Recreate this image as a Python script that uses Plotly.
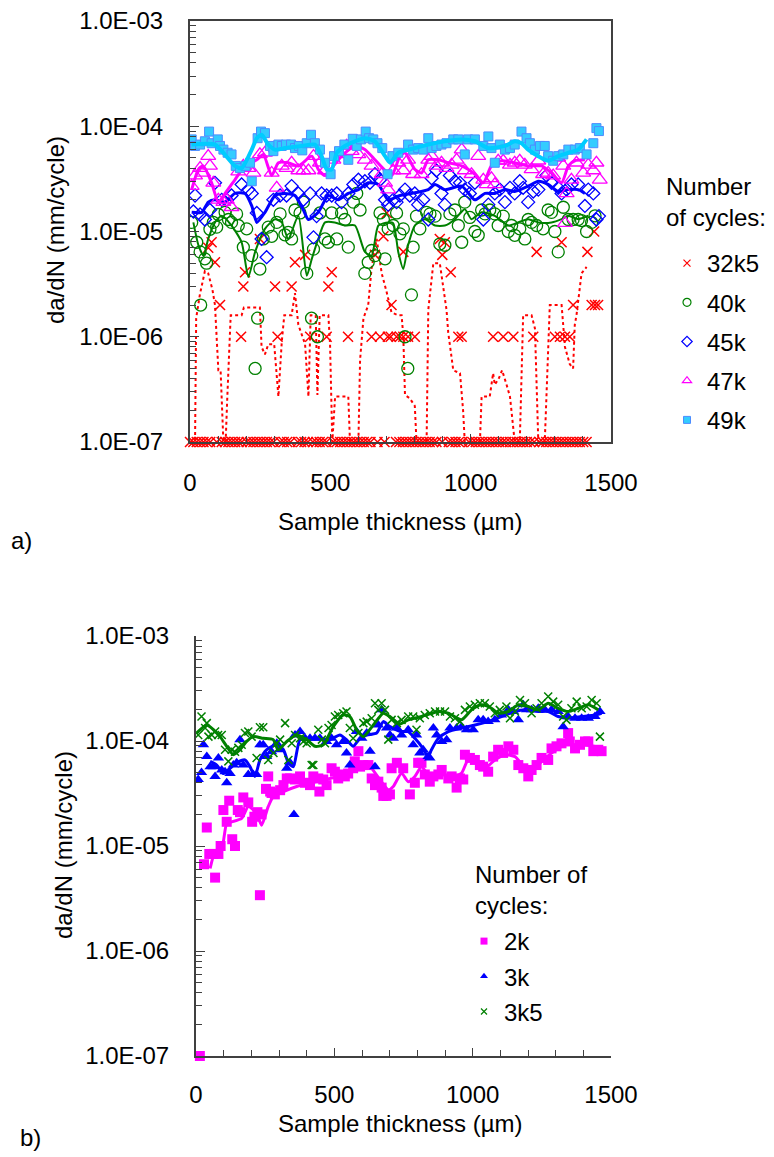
import plotly.graph_objects as go

FUENTE = "Liberation Sans, Arial, sans-serif"

# ---------- Panel a) : (espesor um, da/dN mm/ciclo) ----------
puntos_32k5 = [(65, 7.0e-6), (77, 7.9e-6), (89, 5.1e-6), (107, 2.0e-6), (182, 1.0e-6), (190, 3.0e-6),
               (196, 4.1e-6), (249, 8.5e-6), (303, 3.0e-6), (312, 1.0e-6), (362, 3.0e-6), (374, 5.1e-6),
               (410, 6.0e-6), (428, 1.0e-6), (487, 1.0e-6), (493, 3.0e-6), (505, 4.1e-6), (563, 1.0e-6),
               (647, 1.0e-6), (659, 6.0e-6), (677, 1.0e-6), (689, 9.0e-6), (701, 1.5e-5), (705, 1.0e-6),
               (715, 1.0e-6), (718, 2.0e-6), (736, 1.0e-6), (748, 1.0e-6), (760, 6.4e-6), (760, 1.0e-6),
               (777, 1.0e-6), (801, 1.0e-6), (890, 8.5e-6), (899, 6.0e-6), (908, 7.9e-6), (929, 4.1e-6),
               (956, 1.0e-6), (968, 1.0e-6), (1080, 1.0e-6), (1116, 1.0e-6), (1152, 1.0e-6), (1223, 1.0e-6),
               (1235, 6.4e-6), (1300, 1.0e-6), (1318, 1.0e-6), (1324, 7.9e-6), (1336, 1.0e-6), (1353, 1.0e-6),
               (1365, 2.0e-6), (1416, 6.4e-6), (1431, 2.0e-6), (1440, 1.0e-5), (1443, 2.0e-6), (1454, 2.0e-6)]
# lecturas nulas dibujadas sobre el eje (1E-07)
espesor_32k5_cero = [0, 12, 24, 36, 48, 60, 72, 95, 113, 125, 137, 149, 161, 173, 185, 202, 214, 226, 238,
                     250, 262, 274, 286, 298, 322, 334, 346, 358, 384, 396, 408, 420, 438, 450, 462, 474,
                     486, 511, 523, 535, 547, 559, 571, 583, 595, 607, 619, 631, 643, 668, 693, 734, 746,
                     758, 770, 782, 794, 806, 818, 830, 842, 854, 866, 878, 898, 922, 934, 946, 958, 970,
                     994, 1006, 1018, 1030, 1042, 1054, 1066, 1078, 1090, 1102, 1114, 1126, 1140, 1152,
                     1164, 1176, 1188, 1200, 1212, 1226, 1245, 1257, 1269, 1281, 1293, 1305, 1317, 1329,
                     1341, 1353, 1365, 1377, 1389, 1401, 1413]
dadn_32k5_cero = [1e-7, 1e-7, 1e-7, 1e-7, 1e-7, 1e-7, 1e-7, 1e-7, 1e-7, 1e-7, 1e-7, 1e-7, 1e-7, 1e-7, 1e-7,
                  1e-7, 1e-7, 1e-7, 1e-7, 1e-7, 1e-7, 1e-7, 1e-7, 1e-7, 1e-7, 1e-7, 1e-7, 1e-7, 1e-7, 1e-7,
                  1e-7, 1e-7, 1e-7, 1e-7, 1e-7, 1e-7, 1e-7, 1e-7, 1e-7, 1e-7, 1e-7, 1e-7, 1e-7, 1e-7, 1e-7,
                  1e-7, 1e-7, 1e-7, 1e-7, 1e-7, 1e-7, 1e-7, 1e-7, 1e-7, 1e-7, 1e-7, 1e-7, 1e-7, 1e-7, 1e-7,
                  1e-7, 1e-7, 1e-7, 1e-7, 1e-7, 1e-7, 1e-7, 1e-7, 1e-7, 1e-7, 1e-7, 1e-7, 1e-7, 1e-7, 1e-7,
                  1e-7, 1e-7, 1e-7, 1e-7, 1e-7, 1e-7, 1e-7, 1e-7, 1e-7, 1e-7, 1e-7, 1e-7, 1e-7, 1e-7, 1e-7,
                  1e-7, 1e-7, 1e-7, 1e-7, 1e-7, 1e-7, 1e-7, 1e-7, 1e-7, 1e-7, 1e-7, 1e-7, 1e-7, 1e-7, 1e-7]
media_32k5 = [(0, 1e-7), (18, 1e-7), (22, 1.5e-6), (35, 2.5e-6), (53, 4.2e-6), (65, 4.0e-6), (80, 2.8e-6),
              (89, 2.0e-6), (101, 4.8e-7), (109, 4.8e-7), (119, 1e-7), (127, 1e-7), (133, 2.7e-7),
              (145, 1.6e-6), (184, 1.6e-6), (192, 1.9e-6), (249, 1.9e-6), (255, 8.0e-7), (267, 6.8e-7),
              (279, 8.5e-7), (300, 8.5e-7), (315, 2.7e-7), (327, 9.0e-7), (336, 1.6e-6), (362, 1.6e-6),
              (374, 2.6e-6), (386, 1.3e-6), (410, 8.5e-7), (422, 2.7e-7), (430, 1.6e-6), (448, 1.6e-6),
              (454, 2.8e-7), (462, 1.6e-6), (493, 1.6e-6), (499, 8.5e-7), (507, 1e-7), (517, 2.7e-7),
              (564, 2.7e-7), (570, 1e-7), (600, 1e-7), (606, 6.0e-7), (618, 1.5e-6), (635, 2.0e-6),
              (647, 4.5e-6), (665, 8.5e-6), (683, 4.0e-6), (700, 2.7e-6), (718, 1.7e-6), (742, 1.6e-6),
              (754, 1.6e-6), (760, 1.0e-6), (766, 2.8e-7), (783, 2.6e-7), (801, 2.2e-7), (807, 1e-7),
              (843, 1e-7), (849, 1.8e-6), (867, 5.0e-6), (890, 5.0e-6), (914, 1.8e-6), (920, 1.1e-6),
              (938, 4.8e-7), (962, 4.5e-7), (973, 2.0e-7), (979, 1e-7), (1033, 1e-7), (1039, 2.7e-7),
              (1068, 2.7e-7), (1080, 4.5e-7), (1086, 3.5e-7), (1100, 4.0e-7), (1112, 4.8e-7),
              (1128, 3.5e-7), (1140, 2.7e-7), (1157, 1e-7), (1175, 1e-7), (1187, 1.6e-6), (1217, 1.6e-6),
              (1229, 1.2e-6), (1235, 2.7e-7), (1241, 1e-7), (1264, 1e-7), (1270, 2.7e-7), (1276, 8.5e-7),
              (1282, 2.0e-6), (1324, 2.0e-6), (1336, 8.0e-7), (1353, 5.5e-7), (1365, 5.0e-7),
              (1371, 1.3e-6), (1377, 1.6e-6), (1395, 4.0e-6), (1413, 4.6e-6)]

puntos_40k = [(6, 1.22e-5), (24, 7.9e-6), (36, 6.4e-6), (38, 2.0e-6), (53, 5.5e-6), (59, 5.0e-6),
              (71, 1.05e-5), (83, 1.22e-5), (95, 1.1e-5), (101, 1.45e-5), (125, 1.52e-5), (137, 1.3e-5),
              (148, 1.22e-5), (166, 1.47e-5), (172, 1.14e-5), (190, 7.1e-6), (202, 1.06e-5), (220, 5.9e-6),
              (232, 5.0e-7), (241, 1.5e-6), (249, 4.4e-6), (261, 8.5e-6), (279, 1.1e-5), (291, 9.0e-6),
              (309, 1.22e-5), (321, 1.47e-5), (338, 9.3e-6), (350, 9.8e-6), (362, 8.5e-6), (374, 1.6e-5),
              (392, 1.5e-5), (404, 1.9e-5), (416, 4.0e-6), (433, 1.5e-6), (440, 6.8e-6), (454, 1.0e-6),
              (463, 1.5e-5), (481, 8.5e-6), (493, 7.9e-6), (505, 1.5e-5), (523, 8.5e-6), (540, 1.5e-5),
              (552, 1.3e-5), (564, 7.1e-6), (582, 1.9e-5), (594, 2.3e-5), (606, 1.6e-5), (623, 4.0e-6),
              (635, 5.1e-6), (647, 6.6e-6), (659, 5.9e-6), (677, 1.5e-5), (689, 1.3e-5), (695, 5.5e-6),
              (706, 1.06e-5), (724, 1.14e-5), (736, 1.5e-5), (748, 9.5e-6), (760, 1.06e-5), (766, 1.0e-6),
              (776, 5.0e-7), (789, 2.5e-6), (795, 7.1e-6), (807, 1.4e-5), (819, 1.06e-5), (843, 1.52e-5),
              (855, 1.47e-5), (873, 1.4e-5), (890, 7.6e-6), (908, 7.4e-6), (926, 1.47e-5), (944, 1.6e-5),
              (956, 1.14e-5), (968, 7.9e-6), (979, 1.9e-5), (997, 1.36e-5), (1015, 1.0e-5), (1027, 9.2e-6),
              (1039, 1.6e-5), (1051, 1.47e-5), (1068, 1.6e-5), (1086, 1.47e-5), (1098, 1.14e-5),
              (1116, 1.4e-5), (1134, 1.0e-5), (1146, 1.14e-5), (1157, 9.2e-6), (1175, 1.06e-5),
              (1193, 8.5e-6), (1205, 1.3e-5), (1217, 1.22e-5), (1235, 1.14e-5), (1258, 1.06e-5),
              (1276, 1.6e-5), (1288, 1.52e-5), (1300, 1.0e-5), (1312, 6.4e-6), (1330, 1.7e-5),
              (1348, 1.3e-5), (1365, 1.3e-5), (1383, 1.3e-5), (1395, 1.27e-5), (1413, 1.0e-5),
              (1431, 1.22e-5), (1443, 1.41e-5)]
media_40k = [(12, 1.22e-5), (30, 7.4e-6), (48, 5.9e-6), (65, 8.5e-6), (89, 1.22e-5), (113, 1.41e-5),
             (148, 1.14e-5), (184, 7.9e-6), (208, 3.7e-6), (232, 6.4e-6), (267, 1.06e-5), (303, 1.31e-5),
             (327, 1.22e-5), (350, 8.5e-6), (386, 1.41e-5), (416, 3.8e-6), (434, 5.5e-6), (457, 8.5e-6),
             (481, 1.22e-5), (516, 1.22e-5), (552, 1.14e-5), (588, 1.14e-5), (623, 6.4e-6), (647, 5.9e-6),
             (671, 1.14e-5), (706, 1.22e-5), (724, 1.2e-5), (742, 6.4e-6), (760, 4.4e-6), (777, 7.4e-6),
             (801, 1.14e-5), (837, 1.31e-5), (873, 1.14e-5), (908, 1.14e-5), (944, 1.31e-5),
             (979, 1.63e-5), (1003, 1.31e-5), (1039, 1.52e-5), (1086, 1.41e-5), (1134, 1.14e-5),
             (1169, 1.22e-5), (1205, 1.31e-5), (1241, 1.22e-5), (1288, 1.22e-5), (1324, 1.31e-5),
             (1348, 1.41e-5), (1383, 1.31e-5), (1419, 1.41e-5)]

puntos_45k = [(12, 1.55e-5), (18, 2.2e-5), (36, 1.45e-5), (53, 1.3e-5), (71, 1.6e-5), (89, 2.9e-5),
              (113, 2.0e-5), (131, 2.0e-5), (148, 2.2e-5), (184, 2.8e-5), (208, 2.5e-5), (220, 2.3e-5),
              (238, 1.5e-5), (255, 8.5e-6), (273, 5.7e-6), (297, 2.0e-5), (321, 2.2e-5), (344, 2.2e-5),
              (362, 2.7e-5), (386, 2.3e-5), (404, 2.0e-5), (428, 2.3e-5), (440, 8.8e-6), (451, 1.4e-5),
              (469, 2.3e-5), (487, 2.2e-5), (505, 2.2e-5), (523, 2.3e-5), (540, 1.9e-5), (564, 2.3e-5),
              (582, 2.8e-5), (600, 3.1e-5), (623, 3.0e-5), (641, 2.9e-5), (659, 3.5e-5), (677, 3.1e-5),
              (695, 2.0e-5), (706, 1.8e-5), (724, 2.0e-5), (736, 1.9e-5), (748, 2.2e-5), (766, 2.5e-5),
              (783, 2.2e-5), (801, 2.3e-5), (813, 1.8e-5), (831, 2.0e-5), (849, 1.3e-5), (861, 3.2e-5),
              (878, 3.8e-5), (896, 2.3e-5), (908, 1.8e-5), (926, 3.4e-5), (944, 3.0e-5), (962, 2.9e-5),
              (979, 2.5e-5), (997, 2.3e-5), (1015, 2.9e-5), (1045, 1.3e-5), (1063, 1.8e-5), (1086, 2.3e-5),
              (1104, 2.5e-5), (1122, 1.9e-5), (1140, 2.6e-5), (1157, 2.3e-5), (1175, 3.0e-5),
              (1187, 2.6e-5), (1205, 1.9e-5), (1223, 2.4e-5), (1241, 2.5e-5), (1270, 3.4e-5),
              (1288, 2.9e-5), (1312, 2.6e-5), (1324, 2.3e-5), (1342, 2.5e-5), (1359, 2.8e-5),
              (1383, 2.8e-5), (1407, 1.75e-5), (1419, 2.5e-5), (1437, 2.3e-5), (1448, 1.3e-5),
              (1457, 1.4e-5)]
media_45k = [(6, 1.52e-5), (42, 1.52e-5), (65, 1.9e-5), (89, 2.0e-5), (125, 1.9e-5), (160, 2.3e-5),
             (196, 2.3e-5), (220, 1.75e-5), (238, 1.22e-5), (267, 1.52e-5), (303, 2.2e-5), (338, 2.3e-5),
             (374, 2.2e-5), (404, 1.6e-5), (422, 1.3e-5), (457, 1.52e-5), (493, 2.2e-5), (528, 2.0e-5),
             (564, 2.3e-5), (600, 2.5e-5), (635, 2.9e-5), (671, 2.8e-5), (706, 2.0e-5), (748, 2.2e-5),
             (789, 2.3e-5), (849, 2.5e-5), (873, 2.8e-5), (908, 2.5e-5), (968, 2.7e-5), (1015, 2.0e-5),
             (1051, 2.3e-5), (1086, 2.3e-5), (1122, 2.5e-5), (1157, 2.4e-5), (1205, 2.7e-5),
             (1241, 3.0e-5), (1276, 2.8e-5), (1312, 2.4e-5), (1348, 2.5e-5), (1383, 2.5e-5), (1407, 2.3e-5)]

puntos_47k = [(6, 2.7e-5), (18, 3.4e-5), (36, 4.0e-5), (47, 3.6e-5), (65, 5.2e-5), (71, 4.2e-5),
              (83, 2.9e-5), (101, 2.0e-5), (119, 1.9e-5), (131, 2.0e-5), (148, 1.7e-5), (172, 3.7e-5),
              (190, 4.2e-5), (208, 4.0e-5), (226, 3.6e-5), (249, 5.4e-5), (267, 5.6e-5), (291, 3.6e-5),
              (309, 2.6e-5), (327, 4.2e-5), (344, 4.0e-5), (362, 4.5e-5), (386, 3.8e-5), (404, 3.8e-5),
              (422, 3.8e-5), (440, 5.2e-5), (463, 4.5e-5), (481, 3.8e-5), (511, 4.8e-5), (534, 5.4e-5),
              (558, 6.5e-5), (576, 5.8e-5), (600, 5.4e-5), (623, 4.8e-5), (647, 4.2e-5), (683, 3.5e-5),
              (695, 2.9e-5), (706, 2.5e-5), (724, 3.8e-5), (742, 4.5e-5), (760, 3.8e-5), (777, 4.8e-5),
              (795, 3.5e-5), (825, 3.5e-5), (849, 4.8e-5), (861, 5.2e-5), (878, 4.2e-5), (896, 4.5e-5),
              (914, 4.0e-5), (932, 4.3e-5), (950, 4.8e-5), (968, 6.0e-5), (979, 3.8e-5), (1003, 3.5e-5),
              (1027, 5.2e-5), (1045, 3.1e-5), (1057, 2.8e-5), (1074, 3.2e-5), (1086, 2.8e-5),
              (1098, 4.7e-5), (1116, 4.7e-5), (1140, 4.3e-5), (1157, 4.5e-5), (1175, 4.7e-5),
              (1193, 4.3e-5), (1217, 3.9e-5), (1241, 4.7e-5), (1258, 3.5e-5), (1276, 3.6e-5),
              (1294, 3.4e-5), (1312, 5.0e-5), (1330, 4.2e-5), (1336, 1.2e-5), (1342, 2.3e-5),
              (1359, 3.1e-5), (1377, 4.5e-5), (1401, 3.6e-5), (1419, 4.3e-5), (1437, 3.8e-5),
              (1448, 4.5e-5), (1460, 3.1e-5)]
media_47k = [(6, 2.5e-5), (30, 3.9e-5), (47, 4.2e-5), (77, 2.9e-5), (101, 1.9e-5), (125, 2.3e-5),
             (160, 3.1e-5), (196, 4.2e-5), (238, 4.8e-5), (261, 5.4e-5), (291, 3.4e-5), (315, 4.5e-5),
             (350, 4.5e-5), (386, 4.2e-5), (434, 5.2e-5), (457, 3.9e-5), (481, 3.4e-5), (505, 4.0e-5),
             (540, 5.2e-5), (588, 6.5e-5), (623, 6.0e-5), (659, 4.8e-5), (695, 3.8e-5), (719, 3.4e-5),
             (748, 5.2e-5), (766, 5.6e-5), (801, 3.9e-5), (825, 3.6e-5), (849, 4.8e-5), (884, 4.8e-5),
             (920, 4.5e-5), (968, 4.2e-5), (1015, 3.5e-5), (1045, 2.9e-5), (1074, 4.2e-5),
             (1110, 4.7e-5), (1157, 4.5e-5), (1205, 4.2e-5), (1253, 4.2e-5), (1288, 3.6e-5),
             (1324, 2.9e-5), (1348, 4.2e-5), (1371, 4.7e-5), (1407, 4.8e-5)]

puntos_49k = [(6, 7.5e-5), (18, 6.5e-5), (36, 6.7e-5), (53, 7.2e-5), (68, 8.9e-5), (77, 6.9e-5),
              (99, 7.5e-5), (107, 6.5e-5), (119, 6.0e-5), (134, 5.6e-5), (148, 5.4e-5), (163, 4.2e-5),
              (178, 4.0e-5), (198, 4.2e-5), (214, 4.5e-5), (220, 3.0e-5), (241, 7.7e-5), (253, 8.9e-5),
              (267, 8.6e-5), (285, 6.5e-5), (297, 5.8e-5), (315, 6.7e-5), (327, 6.5e-5), (342, 6.7e-5),
              (360, 6.7e-5), (374, 6.2e-5), (388, 6.5e-5), (400, 5.9e-5), (416, 6.9e-5), (431, 8.3e-5),
              (445, 6.9e-5), (463, 6.0e-5), (481, 4.5e-5), (501, 3.5e-5), (513, 5.2e-5), (531, 5.8e-5),
              (550, 6.7e-5), (564, 4.8e-5), (580, 7.6e-5), (594, 6.5e-5), (609, 7.5e-5), (626, 8.9e-5),
              (638, 7.7e-5), (653, 7.5e-5), (668, 6.9e-5), (685, 6.2e-5), (704, 3.5e-5), (721, 5.2e-5),
              (742, 5.6e-5), (777, 6.7e-5), (795, 6.0e-5), (813, 6.2e-5), (831, 6.0e-5), (849, 7.7e-5),
              (861, 6.2e-5), (878, 6.5e-5), (896, 6.7e-5), (914, 6.9e-5), (938, 7.5e-5), (956, 7.5e-5),
              (979, 5.4e-5), (991, 7.5e-5), (1015, 7.5e-5), (1045, 6.5e-5), (1063, 8.0e-5), (1074, 6.2e-5),
              (1086, 4.5e-5), (1104, 6.7e-5), (1122, 6.0e-5), (1140, 6.2e-5), (1157, 6.7e-5),
              (1181, 8.9e-5), (1199, 7.7e-5), (1211, 6.9e-5), (1229, 6.0e-5), (1247, 6.5e-5),
              (1264, 6.5e-5), (1276, 5.2e-5), (1294, 4.7e-5), (1312, 5.2e-5), (1330, 5.4e-5),
              (1348, 6.0e-5), (1371, 6.0e-5), (1389, 6.2e-5), (1413, 5.4e-5), (1437, 6.9e-5),
              (1448, 9.6e-5), (1457, 9.0e-5)]
media_49k = [(6, 6.7e-5), (89, 6.7e-5), (160, 4.2e-5), (184, 4.0e-5), (220, 6.0e-5), (238, 7.7e-5),
             (255, 8.3e-5), (279, 6.7e-5), (303, 6.0e-5), (338, 6.2e-5), (398, 6.5e-5), (445, 6.7e-5),
             (469, 5.2e-5), (487, 3.9e-5), (505, 3.9e-5), (523, 5.6e-5), (552, 6.5e-5), (588, 7.2e-5),
             (623, 7.7e-5), (659, 7.2e-5), (695, 5.2e-5), (713, 4.5e-5), (742, 5.6e-5), (801, 6.2e-5),
             (849, 6.7e-5), (908, 7.2e-5), (968, 7.5e-5), (1015, 7.2e-5), (1063, 6.2e-5), (1122, 6.5e-5),
             (1157, 7.2e-5), (1181, 6.9e-5), (1205, 6.0e-5), (1241, 5.2e-5), (1276, 4.7e-5),
             (1312, 5.2e-5), (1348, 5.6e-5), (1383, 6.0e-5), (1413, 7.5e-5)]

# ---------- Panel b) ----------
puntos_2k = [(14, 1.0e-7), (29, 6.7e-6), (39, 1.5e-5), (48, 8.4e-6), (63, 8.4e-6), (69, 5.0e-6),
             (81, 8.4e-6), (89, 1.0e-5), (99, 2.2e-5), (111, 1.7e-5), (120, 2.7e-5), (131, 1.16e-5),
             (141, 1.0e-5), (151, 2.2e-5), (159, 2.1e-5), (171, 2.9e-5), (189, 2.6e-5), (203, 1.7e-5),
             (211, 1.9e-5), (222, 2.1e-5), (231, 3.4e-6), (237, 2.0e-5), (253, 3.5e-5), (261, 4.6e-5),
             (268, 3.3e-5), (273, 3.2e-5), (285, 3.1e-5), (304, 3.4e-5), (316, 3.8e-5), (328, 4.4e-5),
             (340, 4.4e-5), (358, 4.3e-5), (376, 4.6e-5), (394, 4.0e-5), (412, 3.8e-5), (424, 4.6e-5),
             (442, 4.4e-5), (446, 3.3e-5), (460, 4.3e-5), (472, 3.8e-5), (490, 5.5e-5), (502, 5.1e-5),
             (514, 4.4e-5), (526, 4.8e-5), (538, 4.6e-5), (550, 4.9e-5), (568, 5.5e-5), (574, 6.4e-5),
             (587, 8.0e-5), (593, 5.7e-5), (605, 5.9e-5), (623, 5.9e-5), (635, 4.4e-5), (647, 3.8e-5),
             (659, 4.1e-5), (671, 3.6e-5), (677, 3.0e-5), (689, 3.0e-5), (701, 3.1e-5), (707, 5.5e-5),
             (726, 6.2e-5), (749, 5.5e-5), (773, 3.1e-5), (791, 4.0e-5), (803, 6.2e-5), (815, 6.2e-5),
             (827, 4.8e-5), (845, 4.1e-5), (858, 4.6e-5), (876, 4.8e-5), (888, 5.3e-5), (912, 4.4e-5),
             (924, 4.6e-5), (942, 3.6e-5), (954, 4.4e-5), (966, 4.3e-5), (972, 7.4e-5), (990, 6.9e-5),
             (1008, 6.6e-5), (1026, 5.9e-5), (1038, 5.7e-5), (1056, 5.1e-5), (1074, 7.1e-5),
             (1092, 8.25e-5), (1110, 7.7e-5), (1129, 8.9e-5), (1147, 8.25e-5), (1165, 5.9e-5),
             (1183, 5.5e-5), (1201, 4.6e-5), (1213, 5.3e-5), (1231, 5.9e-5), (1249, 6.9e-5),
             (1273, 6.6e-5), (1285, 8.5e-5), (1303, 8.9e-5), (1321, 9.5e-5), (1345, 1.19e-4),
             (1351, 9.9e-5), (1370, 8.5e-5), (1388, 9.2e-5), (1406, 9.9e-5), (1418, 9.9e-5),
             (1436, 8.0e-5), (1454, 8.25e-5), (1466, 8.0e-5)]
media_2k = [(51, 6.1e-6), (69, 8.8e-6), (93, 9.5e-6), (111, 1.64e-5), (129, 1.7e-5), (165, 1.83e-5),
            (189, 2.37e-5), (219, 2.05e-5), (237, 1.58e-5), (261, 2.37e-5), (279, 2.95e-5), (316, 3.3e-5),
            (364, 3.69e-5), (412, 3.97e-5), (460, 4.27e-5), (520, 4.6e-5), (556, 5.1e-5), (593, 6.16e-5),
            (629, 5.7e-5), (665, 4.27e-5), (695, 3.43e-5), (713, 3.69e-5), (743, 4.94e-5), (767, 4.1e-5),
            (791, 4.6e-5), (815, 5.7e-5), (839, 4.8e-5), (864, 4.6e-5), (888, 4.94e-5), (912, 4.4e-5),
            (936, 4.6e-5), (960, 4.94e-5), (984, 6.6e-5), (1020, 6.16e-5), (1044, 5.5e-5), (1080, 6.6e-5),
            (1117, 7.4e-5), (1153, 7.1e-5), (1189, 5.5e-5), (1213, 5.1e-5), (1249, 6.4e-5),
            (1285, 7.66e-5), (1321, 8.87e-5), (1345, 9.54e-5), (1370, 9.2e-5), (1406, 9.2e-5),
            (1442, 8.87e-5)]

puntos_3k = [(8, 4.3e-5), (20, 5.0e-5), (27, 9.2e-5), (39, 7.1e-5), (51, 5.7e-5), (63, 5.7e-5),
             (69, 4.6e-5), (81, 6.9e-5), (93, 5.3e-5), (105, 5.1e-5), (111, 4.0e-5), (123, 4.9e-5),
             (135, 5.9e-5), (147, 6.2e-5), (159, 1.03e-4), (171, 5.9e-5), (189, 4.8e-5), (207, 4.8e-5),
             (219, 4.8e-5), (231, 9.2e-5), (243, 9.2e-5), (255, 7.1e-5), (273, 7.9e-5), (292, 9.5e-5),
             (304, 8.25e-5), (328, 5.5e-5), (340, 6.2e-5), (354, 2.0e-5), (358, 1.14e-4), (376, 1.23e-4),
             (394, 1.06e-4), (412, 1.06e-4), (430, 1.06e-4), (448, 1.06e-4), (472, 9.9e-5), (490, 1.06e-4),
             (508, 9.2e-5), (532, 9.9e-5), (544, 7.7e-5), (556, 5.9e-5), (580, 1.23e-4), (599, 1.06e-4),
             (617, 1.19e-4), (629, 8.0e-5), (647, 5.7e-5), (659, 1.42e-4), (671, 1.98e-4), (689, 1.33e-4),
             (701, 1.14e-4), (713, 1.06e-4), (726, 1.33e-4), (743, 1.14e-4), (767, 1.28e-4), (785, 9.2e-5),
             (797, 1.14e-4), (809, 7.7e-5), (821, 8.25e-5), (839, 7.1e-5), (845, 6.9e-5), (858, 1.33e-4),
             (870, 1.14e-4), (888, 9.9e-5), (906, 1.03e-4), (918, 1.33e-4), (942, 1.33e-4), (960, 1.37e-4),
             (978, 1.28e-4), (1002, 1.28e-4), (1020, 1.59e-4), (1038, 1.59e-4), (1056, 1.53e-4),
             (1080, 1.59e-4), (1104, 1.77e-4), (1129, 1.98e-4), (1147, 1.91e-4), (1165, 1.59e-4),
             (1183, 2.21e-4), (1195, 1.98e-4), (1213, 1.98e-4), (1237, 2.05e-4), (1261, 1.98e-4),
             (1285, 1.98e-4), (1309, 1.91e-4), (1327, 1.37e-4), (1345, 1.71e-4), (1370, 1.65e-4),
             (1394, 1.65e-4), (1418, 1.65e-4), (1442, 1.71e-4), (1460, 1.91e-4)]
media_3k = [(51, 6.4e-5), (75, 5.9e-5), (99, 4.9e-5), (123, 5.5e-5), (147, 6.2e-5), (177, 6.6e-5),
            (195, 5.7e-5), (213, 4.6e-5), (231, 6.6e-5), (255, 8.25e-5), (292, 9.2e-5), (316, 8.25e-5),
            (334, 6.2e-5), (352, 5.7e-5), (376, 1.03e-4), (412, 1.06e-4), (448, 1.06e-4), (484, 1.03e-4),
            (520, 1.14e-4), (544, 1.03e-4), (568, 8.9e-5), (593, 1.06e-4), (617, 1.14e-4), (653, 1.19e-4),
            (677, 1.53e-4), (701, 1.37e-4), (743, 1.23e-4), (767, 1.23e-4), (791, 1.06e-4), (815, 8.9e-5),
            (839, 7.1e-5), (851, 8.25e-5), (876, 1.06e-4), (912, 1.23e-4), (960, 1.33e-4), (1008, 1.42e-4),
            (1056, 1.53e-4), (1104, 1.71e-4), (1153, 1.91e-4), (1189, 1.98e-4), (1237, 1.91e-4),
            (1273, 1.91e-4), (1309, 1.71e-4), (1345, 1.65e-4), (1394, 1.71e-4), (1442, 1.77e-4),
            (1466, 1.84e-4)]

puntos_3k5 = [(8, 1.14e-4), (20, 1.71e-4), (33, 1.33e-4), (39, 1.48e-4), (45, 1.10e-4), (57, 1.14e-4),
              (69, 1.23e-4), (80, 1.14e-4), (93, 1.14e-4), (105, 8.25e-5), (117, 6.4e-5), (129, 8.25e-5),
              (141, 7.9e-5), (153, 8.6e-5), (165, 9.2e-5), (177, 1.19e-4), (189, 1.23e-4), (201, 1.10e-4),
              (219, 6.9e-5), (231, 1.35e-4), (243, 1.35e-4), (261, 6.6e-5), (280, 7.7e-5), (292, 9.5e-5),
              (304, 1.03e-4), (322, 1.48e-4), (334, 6.6e-5), (346, 9.5e-5), (358, 1.14e-4), (376, 1.06e-4),
              (388, 9.9e-5), (400, 9.5e-5), (418, 5.9e-5), (424, 5.9e-5), (442, 1.28e-4), (455, 1.03e-4),
              (466, 9.5e-5), (479, 1.33e-4), (490, 1.42e-4), (502, 1.71e-4), (514, 1.77e-4), (532, 1.84e-4),
              (544, 1.91e-4), (556, 1.33e-4), (568, 1.06e-4), (587, 1.19e-4), (605, 1.48e-4), (617, 1.53e-4),
              (635, 1.65e-4), (647, 2.29e-4), (659, 1.98e-4), (671, 2.29e-4), (683, 1.98e-4), (695, 1.03e-4),
              (707, 1.59e-4), (726, 1.48e-4), (743, 1.59e-4), (767, 1.71e-4), (785, 1.71e-4), (797, 1.28e-4),
              (809, 1.65e-4), (827, 1.77e-4), (845, 1.84e-4), (864, 1.91e-4), (882, 1.91e-4), (900, 1.91e-4),
              (918, 1.71e-4), (936, 1.65e-4), (954, 1.53e-4), (972, 1.98e-4), (990, 2.13e-4), (1008, 2.21e-4),
              (1026, 2.29e-4), (1044, 2.29e-4), (1062, 2.13e-4), (1080, 1.84e-4), (1098, 1.98e-4),
              (1122, 2.13e-4), (1135, 1.65e-4), (1153, 1.91e-4), (1171, 2.46e-4), (1189, 2.29e-4),
              (1213, 1.84e-4), (1231, 2.05e-4), (1249, 2.29e-4), (1273, 2.65e-4), (1291, 2.37e-4),
              (1309, 2.21e-4), (1327, 1.71e-4), (1339, 1.59e-4), (1357, 2.05e-4), (1376, 2.37e-4),
              (1394, 2.05e-4), (1412, 2.13e-4), (1430, 2.46e-4), (1448, 2.29e-4), (1460, 1.10e-4)]
media_3k5 = [(2, 1.19e-4), (39, 1.42e-4), (63, 1.28e-4), (87, 1.10e-4), (111, 8.9e-5), (135, 7.4e-5),
             (159, 8.25e-5), (183, 9.9e-5), (207, 1.10e-4), (243, 1.06e-4), (279, 1.03e-4), (297, 8.25e-5),
             (328, 9.9e-5), (364, 1.14e-4), (400, 1.03e-4), (430, 8.9e-5), (460, 9.2e-5), (496, 1.37e-4),
             (532, 1.77e-4), (556, 1.71e-4), (581, 1.28e-4), (605, 1.10e-4), (641, 1.42e-4), (677, 1.84e-4),
             (701, 1.71e-4), (737, 1.45e-4), (767, 1.59e-4), (815, 1.71e-4), (876, 1.91e-4), (912, 1.84e-4),
             (960, 1.59e-4), (996, 1.98e-4), (1032, 2.21e-4), (1068, 2.05e-4), (1092, 1.84e-4),
             (1129, 1.91e-4), (1165, 2.21e-4), (1201, 2.13e-4), (1237, 1.98e-4), (1273, 2.29e-4),
             (1309, 2.05e-4), (1345, 1.91e-4), (1382, 2.05e-4), (1418, 2.21e-4), (1454, 1.98e-4)]

# Etiquetas de ejes
valores_y = [1e-7, 1e-6, 1e-5, 1e-4, 1e-3]
textos_y = ["1.0E-07", "1.0E-06", "1.0E-05", "1.0E-04", "1.0E-03"]
valores_x = [0, 500, 1000, 1500]

W, H = 774, 1157
OFF = 8  # margen del <body> de la pagina


def px_x(px):
    return (px - OFF) / W


def px_y(py):
    return 1 - (py - OFF) / H


def separar(puntos):
    xs = [p[0] for p in puntos]
    ys = [p[1] for p in puntos]
    return xs, ys


fig = go.Figure()


def agregar_puntos(puntos, marcador, ejes, clip=True):
    xs, ys = separar(puntos)
    fig.add_trace(go.Scatter(x=xs, y=ys, mode="markers", marker=marcador, showlegend=False,
                             xaxis=ejes[0], yaxis=ejes[1], cliponaxis=clip, hoverinfo="skip"))


def agregar_media(puntos, linea, ejes, forma="spline"):
    xs, ys = separar(puntos)
    fig.add_trace(go.Scatter(x=xs, y=ys, mode="lines", line=dict(shape=forma, smoothing=0.6, **linea),
                             showlegend=False, xaxis=ejes[0], yaxis=ejes[1], hoverinfo="skip"))


def agregar_leyenda(nombre, marcador, leyenda):
    fig.add_trace(go.Scatter(x=[None], y=[None], mode="markers", marker=marcador, name=nombre,
                             legend=leyenda, legendgroup=nombre, xaxis="x", yaxis="y"))


# --- Panel a)
ejes_a = ("x", "y")
m_32k5 = dict(symbol="x-thin-open", size=10, color="#FF0000", line=dict(color="#FF0000", width=1.5))
m_40k = dict(symbol="circle-open", size=12, color="#008000", line=dict(width=1.3))
m_45k = dict(symbol="diamond-open", size=10, color="#0000FF", line=dict(width=1.3))
m_47k = dict(symbol="triangle-up-open", size=13, color="#FF00FF", line=dict(width=1.3))
m_49k = dict(symbol="square", size=9, color="#33CCFF", line=dict(color="#4C8CFF", width=1))

agregar_puntos(list(zip(espesor_32k5_cero, dadn_32k5_cero)), m_32k5, ejes_a, clip=False)
agregar_puntos(puntos_32k5, m_32k5, ejes_a)
agregar_media(media_32k5, dict(color="#FF0000", width=2, dash="dot"), ejes_a, forma="linear")
agregar_puntos(puntos_40k, m_40k, ejes_a)
agregar_media(media_40k, dict(color="#008000", width=2), ejes_a)
agregar_puntos(puntos_45k, m_45k, ejes_a)
agregar_media(media_45k, dict(color="#0000FF", width=3), ejes_a)
agregar_puntos(puntos_47k, m_47k, ejes_a)
agregar_media(media_47k, dict(color="#FF00FF", width=3), ejes_a)
agregar_puntos(puntos_49k, m_49k, ejes_a)
agregar_media(media_49k, dict(color="#00CCFF", width=4), ejes_a)

# --- Panel b)
ejes_b = ("x2", "y2")
m_2k = dict(symbol="square", size=10, color="#FF00FF")
m_3k = dict(symbol="triangle-up", size=10, color="#0000FF")
m_3k5 = dict(symbol="x-thin-open", size=8, color="#008000", line=dict(color="#008000", width=1.5))

agregar_puntos(puntos_2k, m_2k, ejes_b, clip=False)
agregar_media(media_2k, dict(color="#FF00FF", width=3), ejes_b)
agregar_puntos(puntos_3k, m_3k, ejes_b)
agregar_media(media_3k, dict(color="#0000FF", width=3), ejes_b)
agregar_puntos(puntos_3k5, m_3k5, ejes_b)
agregar_media(media_3k5, dict(color="#008000", width=3), ejes_b)

# --- Entradas de leyenda (marcadores pequenos)
agregar_leyenda("32k5", dict(symbol="x-thin-open", size=7, color="#FF0000",
                             line=dict(color="#FF0000", width=1.2)), "legend")
agregar_leyenda("40k", dict(symbol="circle-open", size=8, color="#008000", line=dict(width=1.2)), "legend")
agregar_leyenda("45k", dict(symbol="diamond-open", size=8, color="#0000FF", line=dict(width=1.2)), "legend")
agregar_leyenda("47k", dict(symbol="triangle-up-open", size=8, color="#FF00FF", line=dict(width=1.2)), "legend")
agregar_leyenda("49k", dict(symbol="square", size=7, color="#33CCFF", line=dict(color="#4C8CFF", width=1)), "legend")
agregar_leyenda("2k", dict(symbol="square", size=7, color="#FF00FF"), "legend2")
agregar_leyenda("3k", dict(symbol="triangle-up", size=7, color="#0000FF"), "legend2")
agregar_leyenda("3k5", dict(symbol="x-thin-open", size=6, color="#008000",
                            line=dict(color="#008000", width=1.2)), "legend2")

fuente_ejes = dict(family=FUENTE, size=24, color="black")


def eje_x(dominio, ancla, espejo, separacion):
    return dict(domain=dominio, anchor=ancla, range=[0, 1500], tickmode="array", tickvals=valores_x,
                ticks="inside", ticklen=8, tickwidth=1, tickcolor="#404040", showline=True,
                linecolor="#404040", linewidth=2, mirror=espejo, showgrid=False, zeroline=False,
                tickfont=fuente_ejes, ticklabelstandoff=separacion, automargin=False,
                ticklabeloverflow="allow",
                minor=dict(dtick=100, tick0=0, ticks="inside", ticklen=6, tickcolor="#404040", showgrid=False))


def eje_y(dominio, ancla, espejo, separacion):
    return dict(domain=dominio, anchor=ancla, type="log", range=[-7, -3], tickmode="array",
                tickvals=valores_y, ticktext=textos_y, ticks="inside", ticklen=9, tickwidth=1,
                tickcolor="#404040", showline=True, linecolor="#404040", linewidth=2, mirror=espejo,
                showgrid=False, zeroline=False, tickfont=fuente_ejes, ticklabelstandoff=separacion,
                automargin=False, ticklabeloverflow="allow",
                minor=dict(dtick="D1", ticks="inside", ticklen=6, tickcolor="#404040", showgrid=False))


fig.update_layout(
    width=W, height=H, autosize=False,
    margin=dict(l=0, r=0, t=0, b=0, autoexpand=False),
    paper_bgcolor="white", plot_bgcolor="white",
    font=dict(family=FUENTE, size=24, color="black"),
    xaxis=eje_x([px_x(190), px_x(611)], "y", True, 18),
    yaxis=eje_y([px_y(442), px_y(21)], "x", True, 20),
    xaxis2=eje_x([px_x(196), px_x(611)], "y2", False, 16),
    yaxis2=eje_y([px_y(1056), px_y(636)], "x2", False, 20),
    legend=dict(x=px_x(667), xanchor="left", y=px_y(241), yanchor="top",
                font=dict(family=FUENTE, size=24), tracegroupgap=5, itemwidth=30,
                bgcolor="rgba(0,0,0,0)"),
    legend2=dict(x=px_x(464), xanchor="left", y=px_y(919), yanchor="top",
                 font=dict(family=FUENTE, size=24), tracegroupgap=1, itemwidth=30,
                 bgcolor="rgba(0,0,0,0)"),
)

# Titulos de ejes, titulos de leyenda y rotulos a) / b)
anotaciones = [
    (400, 521, "Sample thickness (µm)", 0, "center"),
    (55, 230, "da/dN (mm/cycle)", -90, "center"),
    (400, 1123, "Sample thickness (µm)", 0, "center"),
    (63, 845, "da/dN (mm/cycle)", -90, "center"),
    (22, 540, "a)", 0, "center"),
    (30, 1137, "b)", 0, "center"),
    (664, 202, "Number<br>of cycles:", 0, "left"),
    (473, 890, "Number of<br>cycles:", 0, "left"),
]
for px, py, texto, angulo, ancla in anotaciones:
    fig.add_annotation(x=px_x(px), y=px_y(py), xref="paper", yref="paper", text=texto,
                       textangle=angulo, showarrow=False, xanchor=ancla, yanchor="middle",
                       align="left", font=dict(family=FUENTE, size=24, color="black"))

fig.write_html("out.html")
